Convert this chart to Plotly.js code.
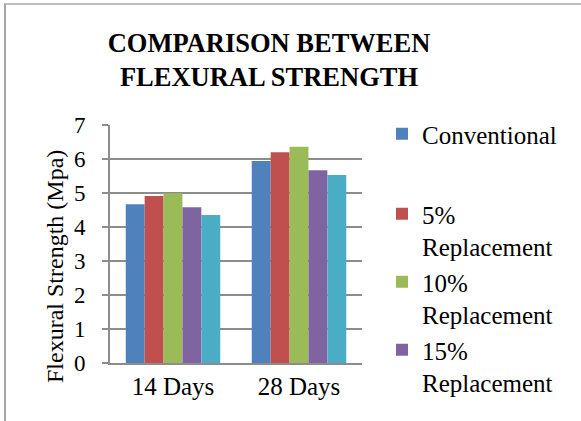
<!DOCTYPE html>
<html>
<head>
<meta charset="utf-8">
<script src="https://cdn.plot.ly/plotly-3.0.1.min.js"></script>
<style>
  html, body { margin: 0; padding: 0; background: #ffffff; }
  #frame { position: absolute; left: 0; top: 0; width: 581px; height: 421px; }
  #border { position: absolute; left: 4px; top: 3px; width: 577px; height: 418px;
            border-left: 2px solid #a6a6a6; border-top: 2px solid #bdbdbd; pointer-events: none; }
  #chart { position: absolute; left: 0; top: 0; width: 581px; height: 421px; }
</style>
</head>
<body>
<div id="frame">
  <div id="chart"></div>
  <div id="border"></div>
</div>
<script>
const categories = ["14 Days", "28 Days"];
const seriesNames = ["Conventional", "5%<br>Replacement", "10%<br>Replacement", "15%<br>Replacement", "20%<br>Replacement"];
const conventional = [4.67, 5.94];
const replacement5 = [4.91, 6.20];
const replacement10 = [4.99, 6.36];
const replacement15 = [4.58, 5.67];
const replacement20 = [4.35, 5.53];
const yTicks = [0, 1, 2, 3, 4, 5, 6, 7];
const yTitle = "Flexural Strength (Mpa)";
const chartTitle = "<b>COMPARISON BETWEEN<br>FLEXURAL STRENGTH</b>";

const colors = ["#4F81BD", "#C0504D", "#9BBB59", "#8064A2", "#4BACC6"];
const values = [conventional, replacement5, replacement10, replacement15, replacement20];
const legends = ["legend", "legend2", "legend2", "legend2", "legend2"];

const traces = values.map((v, i) => ({
  type: "bar",
  x: categories,
  y: v,
  name: seriesNames[i],
  marker: { color: colors[i], line: { width: 0 } },
  legend: legends[i],
  legendgroup: "g" + i,
  showlegend: i < 4,
  hoverinfo: "skip"
}));

const fontFam = "'Liberation Serif', 'Times New Roman', serif";
const legendFont = { family: fontFam, size: 25, color: "#000000" };

const layout = {
  width: 581,
  height: 421,
  font: { family: fontFam, size: 22, color: "#000000" },
  margin: { l: 110, r: 219, t: 125, b: 58 },
  paper_bgcolor: "#ffffff",
  plot_bgcolor: "#ffffff",
  barmode: "group",
  bargap: 0.25,
  bargroupgap: 0,
  showlegend: true,
  title: {
    text: chartTitle,
    font: { family: fontFam, size: 26.5, color: "#000000" },
    x: 269 / 581,
    xanchor: "center",
    xref: "container",
    y: 1 - 52 / 421,
    yanchor: "top",
    yref: "container"
  },
  xaxis: {
    type: "category",
    showline: true,
    linecolor: "#8c8c8c",
    linewidth: 2,
    ticks: "",
    tickfont: { family: fontFam, size: 25, color: "#000000" },
    showgrid: false,
    zeroline: false,
    fixedrange: true
  },
  yaxis: {
    range: [0, 7],
    tickvals: yTicks,
    ticktext: yTicks.map(String),
    showline: true,
    linecolor: "#8c8c8c",
    linewidth: 2,
    ticks: "outside",
    ticklen: 6,
    tickwidth: 2,
    tickcolor: "#8c8c8c",
    ticklabelstandoff: 12,
    tickfont: { family: fontFam, size: 23, color: "#000000" },
    showgrid: true,
    gridcolor: "#8c8c8c",
    gridwidth: 2,
    zeroline: false,
    fixedrange: true
  },
  annotations: [{
    text: yTitle,
    textangle: -90,
    xref: "paper", yref: "paper",
    x: (55 - 110) / 252, y: (363 - 267) / 238,
    xanchor: "center", yanchor: "middle",
    showarrow: false,
    font: { family: fontFam, size: 24, color: "#000000" }
  }],
  legend: {
    x: 382 / 581, xref: "container", xanchor: "left",
    y: 1 - 111 / 421, yref: "container", yanchor: "top",
    font: legendFont,
    bgcolor: "rgba(0,0,0,0)",
    itemwidth: 30,
    valign: "top"
  },
  legend2: {
    x: 382 / 581, xref: "container", xanchor: "left",
    y: 1 - 191 / 421, yref: "container", yanchor: "top",
    font: legendFont,
    bgcolor: "rgba(0,0,0,0)",
    itemwidth: 30,
    valign: "top",
    tracegroupgap: 0
  }
};

Plotly.newPlot("chart", traces, layout, { displayModeBar: false, staticPlot: true });
</script>
</body>
</html>
